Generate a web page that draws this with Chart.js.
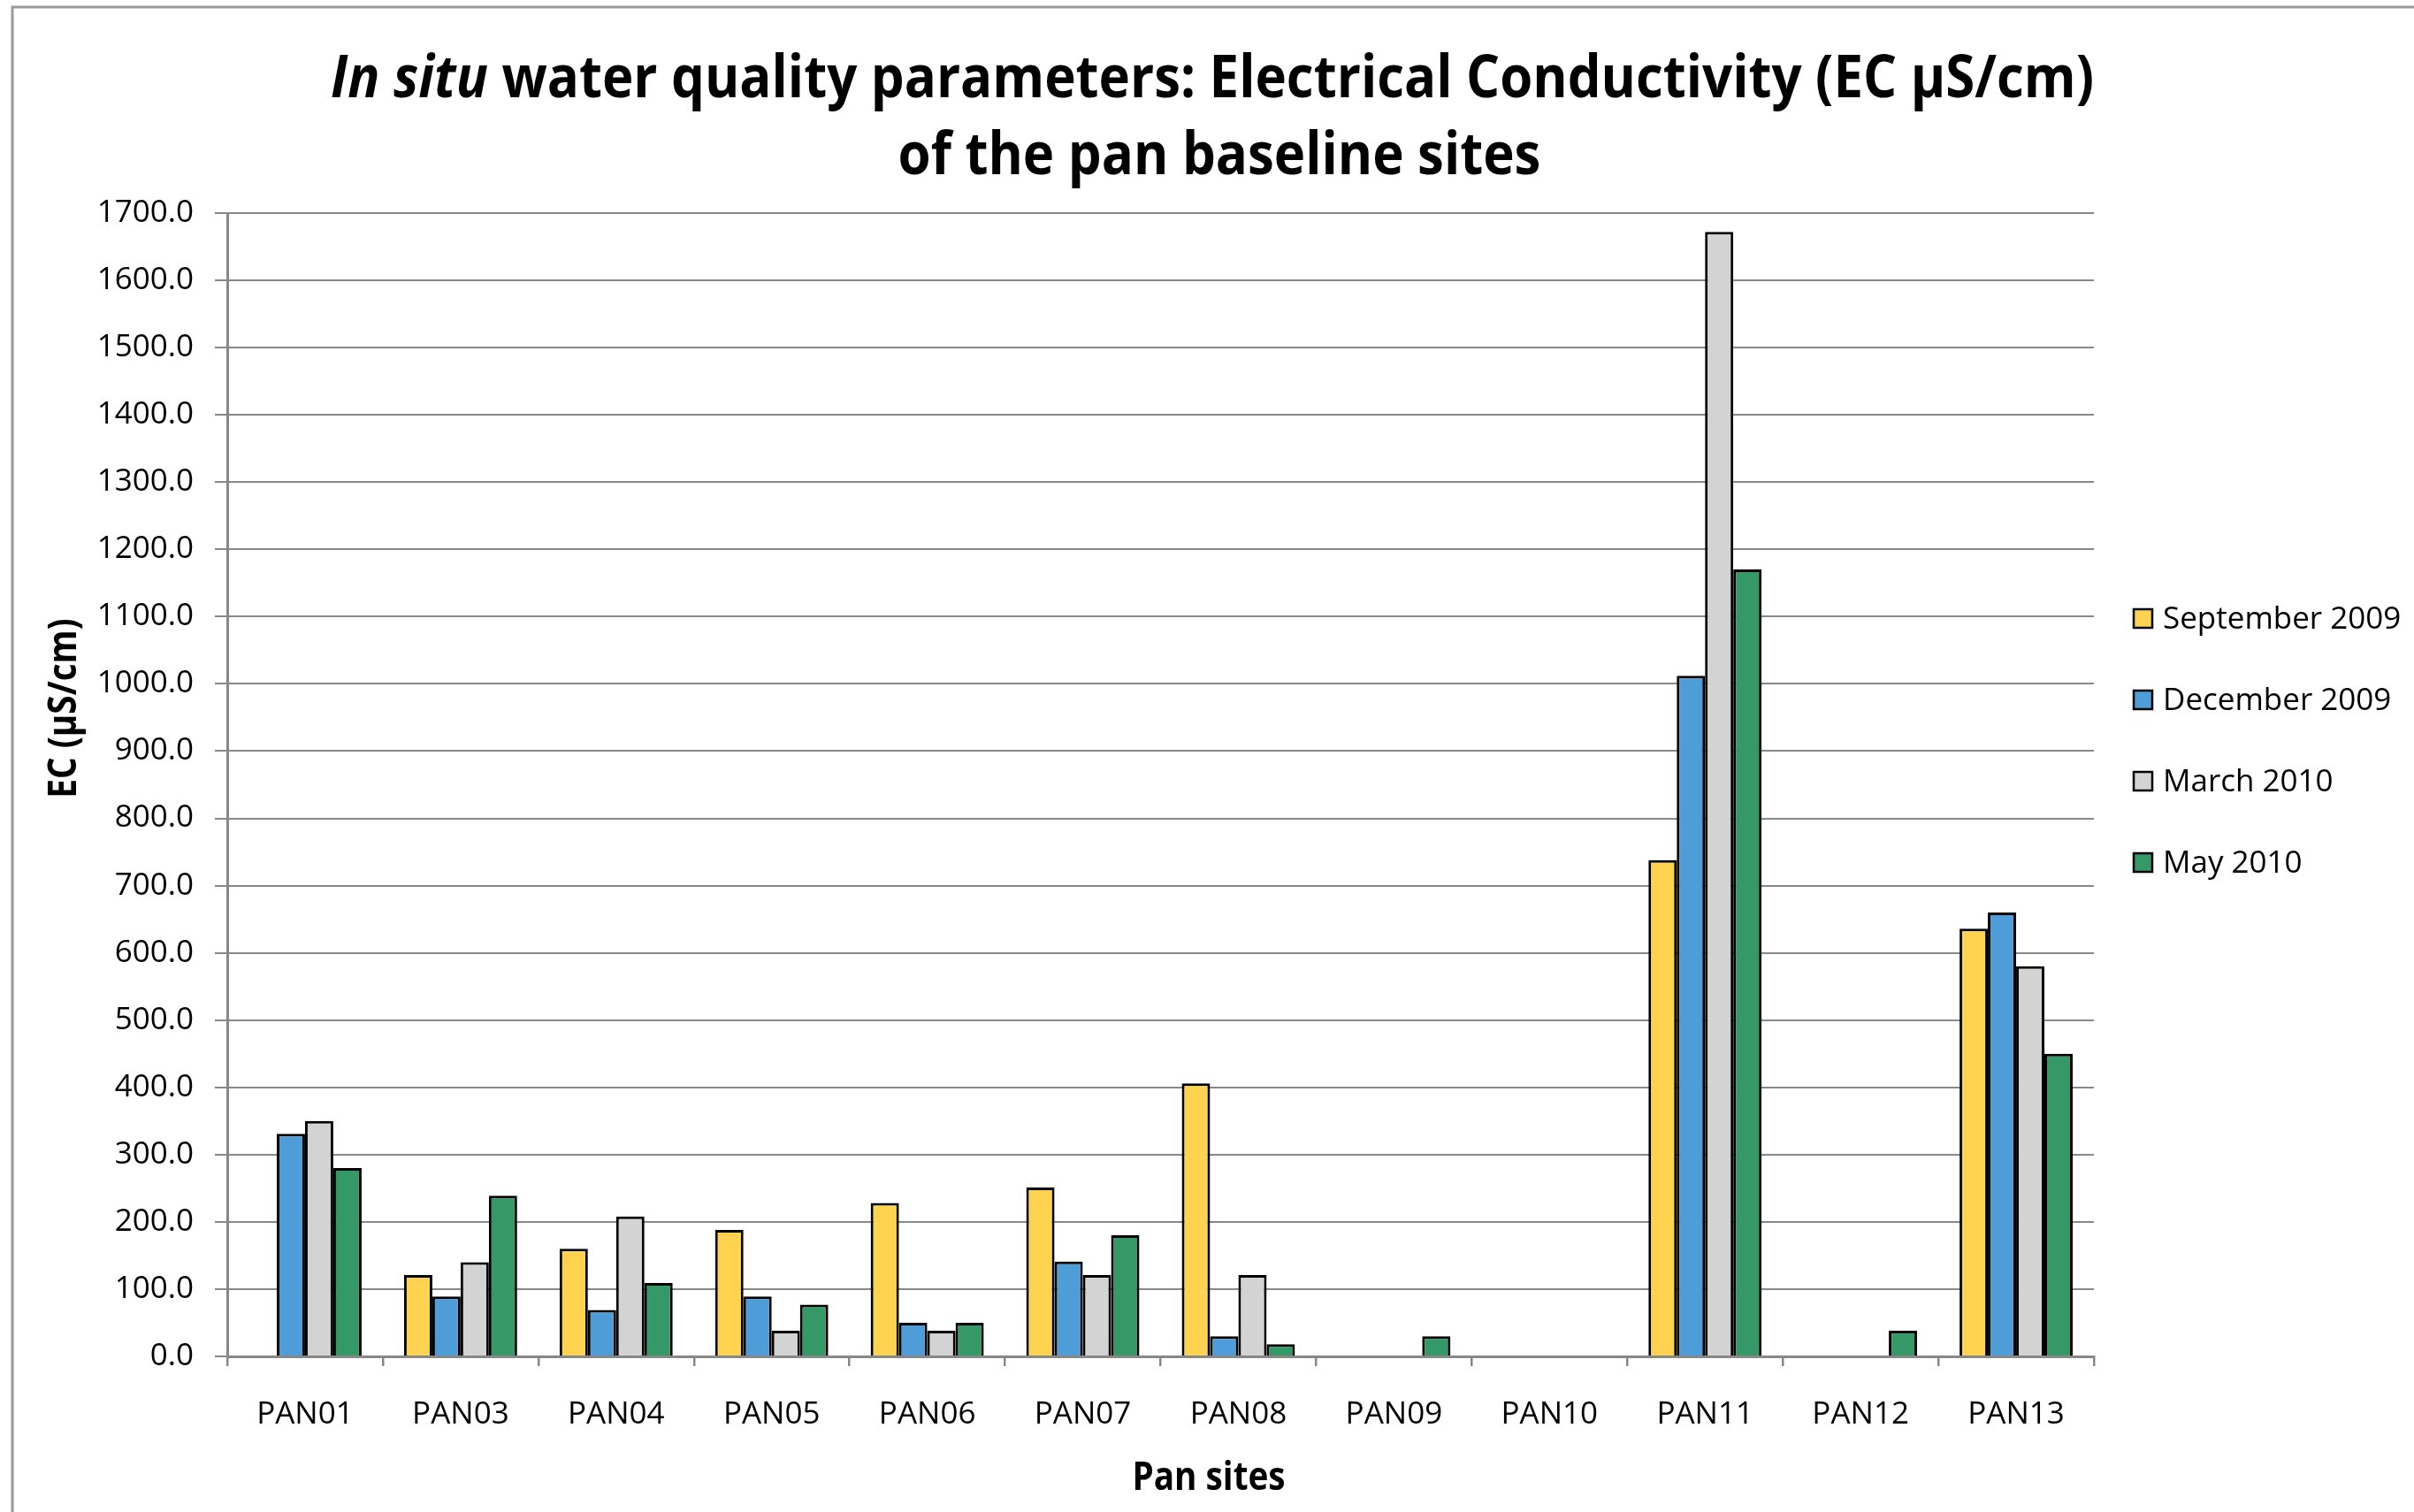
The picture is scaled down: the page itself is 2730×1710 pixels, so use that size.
<!DOCTYPE html>
<html>
<head>
<meta charset="utf-8">
<title>In situ water quality parameters: Electrical Conductivity</title>
<script src="https://cdn.jsdelivr.net/npm/chart.js@4/dist/chart.umd.min.js"></script>
<style>
  html, body { margin: 0; padding: 0; background: #ffffff; }
  #wrap { width: 2730px; height: 1710px; }
</style>
</head>
<body>
<div id="wrap"><canvas id="ec" width="2730" height="1710"></canvas></div>
<script>
// Pan sites on the category axis
const sites = ['PAN01', 'PAN03', 'PAN04', 'PAN05', 'PAN06', 'PAN07', 'PAN08', 'PAN09', 'PAN10', 'PAN11', 'PAN12', 'PAN13'];

// EC (µS/cm) per sampling campaign; null = no measurement
const sep2009 = [null, 121, 160, 188, 228, 251, 406, null, null, 738, null, 636];
const dec2009 = [331, 89, 69, 89, 50, 141, 30, null, null, 1012, null, 660];
const mar2010 = [350, 140, 208, 38, 38, 121, 121, null, null, 1672, null, 580];
const may2010 = [280, 239, 109, 77, 50, 180, 18, 30, null, 1170, 38, 450];

const seriesNames = ['September 2009', 'December 2009', 'March 2010', 'May 2010'];
const seriesValues = [sep2009, dec2009, mar2010, may2010];
const seriesColors = ['#FFD34F', '#4E9DD8', '#D3D3D3', '#349966'];

// value axis range and tick step
const yMin = 0;
const yMax = 1700;
const yStep = 100;

const titleLine1 = [
  { text: 'In situ', italic: true },
  { text: ' water quality parameters: Electrical Conductivity (EC µS/cm)', italic: false }
];
const titleLine2 = [{ text: 'of the pan baseline sites', italic: false }];
const yAxisTitle = 'EC (µS/cm)';
const xAxisTitle = 'Pan sites';

const GRID = '#888888';
const FONT = '"Open Sans", "DejaVu Sans", sans-serif';

// white page with the grey frame along the left and top edges
const framePlugin = {
  id: 'frame',
  beforeDraw(chart) {
    const ctx = chart.ctx;
    ctx.save();
    ctx.fillStyle = '#ffffff';
    ctx.fillRect(0, 0, chart.width, chart.height);
    ctx.strokeStyle = '#9a9a9a';
    ctx.lineWidth = 3;
    ctx.beginPath();
    ctx.moveTo(14, chart.height);
    ctx.lineTo(14, 8);
    ctx.lineTo(chart.width, 8);
    ctx.stroke();
    ctx.restore();
  }
};

// text runs drawn with a horizontal squeeze (condensed bold look)
function runsWidth(ctx, runs, size) {
  let w = 0;
  for (const r of runs) {
    ctx.font = (r.italic ? 'italic ' : '') + 'bold ' + size + 'px ' + FONT;
    w += ctx.measureText(r.text).width;
  }
  return w;
}
function drawRuns(ctx, runs, size, cx, baseline, sx) {
  const w = runsWidth(ctx, runs, size) * sx;
  ctx.save();
  ctx.translate(cx - w / 2, baseline);
  ctx.scale(sx, 1);
  ctx.textBaseline = 'alphabetic';
  ctx.textAlign = 'left';
  ctx.fillStyle = '#000000';
  let x = 0;
  for (const r of runs) {
    ctx.font = (r.italic ? 'italic ' : '') + 'bold ' + size + 'px ' + FONT;
    ctx.fillText(r.text, x, 0);
    x += ctx.measureText(r.text).width;
  }
  ctx.restore();
}

const annotationPlugin = {
  id: 'annotations',
  afterDraw(chart) {
    const ctx = chart.ctx;
    // chart title, two lines
    const tSize = 66;
    const sx = 1994 / runsWidth(ctx, titleLine1, tSize);
    drawRuns(ctx, titleLine1, tSize, 1371, 110, sx);
    drawRuns(ctx, titleLine2, tSize, 1379, 197, sx);

    // axis titles
    const aSize = 44;
    const asx = 0.88;
    ctx.save();
    ctx.translate(86, 801);
    ctx.rotate(-Math.PI / 2);
    drawRuns(ctx, [{ text: yAxisTitle, italic: false }], aSize, 0, 0, asx);
    ctx.restore();
    drawRuns(ctx, [{ text: xAxisTitle, italic: false }], aSize, 1367, 1685, asx);

    // legend
    ctx.save();
    ctx.font = '35px ' + FONT;
    ctx.textBaseline = 'middle';
    ctx.textAlign = 'left';
    chart.data.datasets.forEach((ds, i) => {
      const cy = 700 + i * 92;
      ctx.fillStyle = ds.backgroundColor;
      ctx.fillRect(2413, cy - 11, 21, 21);
      ctx.strokeStyle = '#000000';
      ctx.lineWidth = 2.5;
      ctx.strokeRect(2413, cy - 11, 21, 21);
      ctx.fillStyle = '#000000';
      ctx.fillText(ds.label, 2446, cy + 1);
    });
    ctx.restore();
  }
};

new Chart(document.getElementById('ec'), {
  type: 'bar',
  data: {
    labels: sites,
    datasets: seriesValues.map((vals, i) => ({
      label: seriesNames[i],
      data: vals,
      backgroundColor: seriesColors[i],
      borderColor: '#000000',
      borderWidth: 3,
      categoryPercentage: 0.727,
      barPercentage: 1.0
    }))
  },
  options: {
    responsive: false,
    devicePixelRatio: 1,
    animation: false,
    layout: { padding: { top: 241, right: 362, left: 0, bottom: 0 } },
    plugins: {
      legend: { display: false },
      title: { display: false },
      tooltip: { enabled: false }
    },
    scales: {
      x: {
        type: 'category',
        afterFit(scale) { scale.height = 176; },
        grid: {
          offset: true,
          drawOnChartArea: false,
          drawTicks: true,
          tickLength: 11,
          color: GRID,
          lineWidth: 2.5
        },
        border: { color: GRID, width: 3 },
        ticks: {
          color: '#000000',
          font: { family: FONT, size: 35 },
          padding: 34,
          maxRotation: 0,
          autoSkip: false
        }
      },
      y: {
        min: yMin,
        max: yMax,
        afterFit(scale) { scale.width = 257; },
        grid: {
          color: GRID,
          lineWidth: 2,
          drawTicks: true,
          tickLength: 14
        },
        border: { color: GRID, width: 3 },
        ticks: {
          stepSize: yStep,
          color: '#000000',
          font: { family: FONT, size: 35 },
          padding: 24,
          callback: (v) => Number(v).toFixed(1)
        }
      }
    }
  },
  plugins: [framePlugin, annotationPlugin]
});
</script>
</body>
</html>
